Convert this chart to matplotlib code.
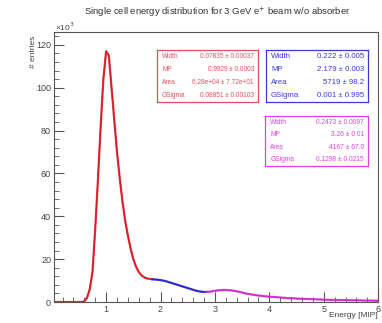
import matplotlib
matplotlib.use('Agg')
import matplotlib.pyplot as plt
import numpy as np
from matplotlib.ticker import MultipleLocator

plt.rcParams['font.family'] = ['Liberation Sans', 'DejaVu Sans']

# energy bin centres [MIP] and entries (x10^3)
energy = np.round(np.arange(0.05, 6.001, 0.05), 2)
entries = np.array([
    0, 0, 0, 0, 0, 0, 0, 0, 0, 0, 0,                      # 0.05 - 0.55
    0.3, 2, 6, 14, 34, 57, 82, 104, 117, 115,             # 0.60 - 1.05
    100, 85, 70, 58, 47, 38, 31, 25, 20, 16.5,            # 1.10 - 1.55
    14, 12.5, 11.5, 11, 10.8, 10.6, 10.5, 10.4, 10.2, 10, # 1.60 - 2.05
    9.7, 9.3, 8.9, 8.5, 8.1, 7.7, 7.3, 6.9, 6.5, 6.1,     # 2.10 - 2.55
    5.7, 5.3, 5.0, 4.8, 4.7, 4.7, 4.8, 5.0, 5.2, 5.4,     # 2.60 - 3.05
    5.5, 5.6, 5.6, 5.5, 5.4, 5.2, 5.0, 4.7, 4.4, 4.1,     # 3.10 - 3.55
    3.8, 3.6, 3.4, 3.2, 3.0, 2.9, 2.7, 2.6, 2.5, 2.4,     # 3.60 - 4.05
    2.3, 2.2, 2.1, 2.0, 1.9, 1.8, 1.75, 1.7, 1.6, 1.55,   # 4.10 - 4.55
    1.5, 1.45, 1.4, 1.35, 1.3, 1.25, 1.2, 1.15, 1.1, 1.05,# 4.60 - 5.05
    1.0, 0.98, 0.95, 0.92, 0.9, 0.88, 0.85, 0.82, 0.8, 0.78, # 5.10 - 5.55
    0.76, 0.74, 0.72, 0.7, 0.68, 0.66, 0.64, 0.62, 0.6,   # 5.60 - 6.00
])

# fit ranges
red_range = (0.05, 1.85)
blue_range = (1.85, 2.85)
magenta_range = (2.85, 6.0)

red_box = ["Width", "0.07835 \u00b1 0.00037", "MP", "0.9929 \u00b1 0.0003",
           "Area", "6.28e+04 \u00b1 7.72e+01", "GSigma", "0.08851 \u00b1 0.00103"]
blue_box = ["Width", "0.222 \u00b1 0.005", "MP", "2.179 \u00b1 0.003",
            "Area", "5719 \u00b1 98.2", "GSigma", "0.001 \u00b1 0.995"]
magenta_box = ["Width", "0.2473 \u00b1 0.0097", "MP", "3.26 \u00b1 0.01",
               "Area", "4167 \u00b1 67.0", "GSigma", "0.1298 \u00b1 0.0215"]

fig = plt.figure(figsize=(3.82, 3.23), dpi=100)
ax = fig.add_axes([0.141, 0.065, 0.849, 0.836])

ax.plot(energy, entries, color='black', linewidth=0.8)
for (lo, hi), col in [(red_range, '#e8202a'), (blue_range, '#2b2bd6'), (magenta_range, '#e030e0')]:
    m = (energy >= lo - 1e-9) & (energy <= hi + 1e-9)
    ax.plot(energy[m], entries[m], color=col, linewidth=1.6, alpha=0.9)

ax.set_xlim(0.04, 6)
ax.set_ylim(0, 126)
ax.xaxis.set_major_locator(MultipleLocator(1))
ax.xaxis.set_minor_locator(MultipleLocator(0.2))
ax.yaxis.set_major_locator(MultipleLocator(20))
ax.yaxis.set_minor_locator(MultipleLocator(4))
ax.tick_params(which='both', direction='in', top=False, right=False, labelsize=6.5,
               color='#555555', labelcolor='#444444', pad=2)
ax.tick_params(which='major', length=7)
ax.tick_params(which='minor', length=3.5)
for s in ax.spines.values():
    s.set_color('#555555')
    s.set_linewidth(0.8)

fig.text(0.57, 0.96, "Single cell energy distribution for 3 GeV e$^{+}$ beam w/o absorber",
         ha='center', va='center', fontsize=6.8, color='#333333')
fig.text(0.087, 0.89, "# entries", rotation=90, ha='center', va='top', fontsize=6, color='#444444')
fig.text(0.143, 0.899, "\u00d710$^{3}$", ha='left', va='bottom', fontsize=6, color='#444444')
fig.text(0.99, 0.022, "Energy [MIP]", ha='right', va='center', fontsize=6, color='#444444')


def stat_box(x0, y0, x1, y1, rows, col, fs):
    ax_box = fig.add_axes([x0 / 382, 1 - y1 / 323, (x1 - x0) / 382, (y1 - y0) / 323])
    ax_box.set_xticks([])
    ax_box.set_yticks([])
    for s in ax_box.spines.values():
        s.set_color(col)
        s.set_linewidth(0.9)
    ax_box.set_facecolor('white')
    n = len(rows) // 2
    for i in range(n):
        yy = 1 - (i + 0.5) / n
        ax_box.text(0.05, yy, rows[2 * i], ha='left', va='center', fontsize=fs, color=col)
        ax_box.text(0.96, yy, rows[2 * i + 1], ha='right', va='center', fontsize=fs, color=col)


stat_box(157, 50, 258, 102, red_box, '#e0505a', 4.7)
stat_box(266, 50, 368, 102, blue_box, '#3a3ad8', 5.6)
stat_box(265, 116, 368, 166, magenta_box, '#dd44dd', 4.8)

fig.savefig('out.png', dpi=100)
